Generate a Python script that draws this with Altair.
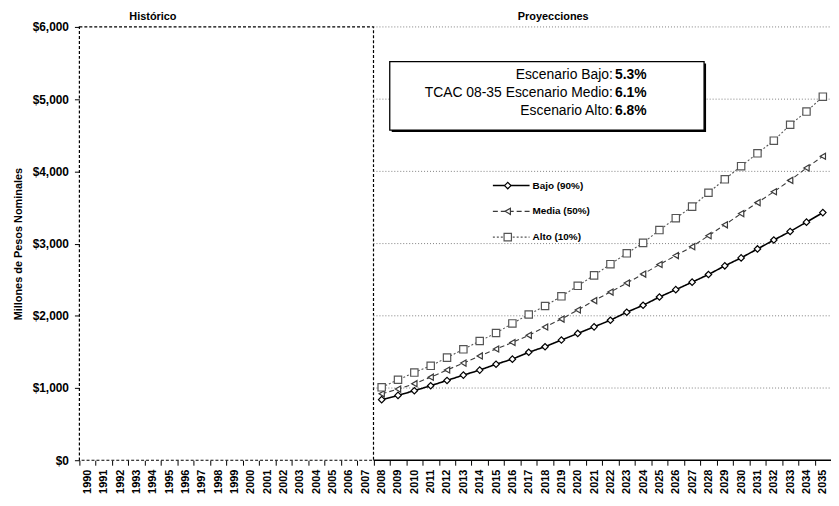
import altair as alt
import pandas as pd

# ---------------- data ----------------
all_years = [str(y) for y in range(1990, 2036)]
proj_years = [str(y) for y in range(2008, 2036)]

bajo = [839, 898, 963, 1032, 1105, 1179, 1248, 1330, 1400, 1495, 1572, 1664, 1756, 1847,
        1939, 2050, 2146, 2260, 2362, 2466, 2572, 2692, 2802, 2926, 3049, 3168, 3297, 3429]
medio = [920, 985, 1060, 1150, 1250, 1345, 1444, 1540, 1630, 1730, 1845, 1955, 2080, 2210,
         2329, 2453, 2578, 2710, 2834, 2957, 3109, 3260, 3415, 3567, 3718, 3875, 4048, 4209]
alto = [1010, 1114, 1214, 1307, 1421, 1536, 1651, 1762, 1894, 2018, 2136, 2270, 2415, 2560,
        2715, 2865, 3010, 3187, 3352, 3512, 3704, 3890, 4072, 4250, 4425, 4645, 4828, 5034]

series_names = ["Bajo (90%)", "Media (50%)", "Alto (10%)"]
series_values = [bajo, medio, alto]

y_ticks = [0, 1000, 2000, 3000, 4000, 5000, 6000]
grid_values = [1000, 2000, 3000, 4000, 5000, 6000]

header_labels = ["Histórico", "Proyecciones"]
header_pos = [4.5, 29.0]

box_labels = ["Escenario Bajo: ", "TCAC 08-35 Escenario Medio: ", "Escenario Alto: "]
box_rates = ["5.3%", "6.1%", "6.8%"]

y_title = "Millones de Pesos Nominales"

# ---------------- style ----------------
FONT = "Liberation Sans"
W, H = 758, 437
N = len(all_years)
split_idx = all_years.index(proj_years[0])

styles = {
    "Bajo (90%)": dict(color="black", dash=[1, 0], width=1.6, shape="diamond", size=42),
    "Media (50%)": dict(color="#3a3a3a", dash=[5, 3], width=1.1, shape="triangle-left", size=38),
    "Alto (10%)": dict(color="#555555", dash=[2, 2], width=1.1, shape="square", size=55),
}

rows = []
for name, vals in zip(series_names, series_values):
    for yr, v in zip(proj_years, vals):
        rows.append({"year": yr, "value": v, "series": name})
df = pd.DataFrame(rows)

yscale = alt.Scale(domain=[y_ticks[0], y_ticks[-1]], nice=False, zero=True)
yaxis = alt.Axis(
    title=y_title, values=y_ticks, format="$,.0f",
    labelFont=FONT, labelFontWeight="bold", labelFontSize=12, labelColor="black",
    titleFont=FONT, titleFontWeight="bold", titleFontSize=11, titleColor="black",
    titlePadding=9, labelPadding=6, tickSize=5, tickColor="black",
    domain=False, grid=False,
)


def yenc(field):
    return alt.Y(field, type="quantitative", scale=yscale, axis=yaxis)


xband_scale = alt.Scale(type="band", domain=all_years, paddingInner=0, paddingOuter=0)
xaxis = alt.Axis(
    title=None, labelAngle=-90, labelFont=FONT, labelFontWeight="bold", labelFontSize=11,
    labelColor="black", labelPadding=4, labelOverlap=False, tickSize=5, tickColor="black",
    tickBand="extent", domain=False, grid=False,
)
xband = alt.X("year:O", scale=xband_scale, axis=xaxis, bandPosition=0.5)

xq_scale = alt.Scale(domain=[0, N], nice=False, zero=False)


def xq(field):
    return alt.X(field, type="quantitative", scale=xq_scale, axis=None)


# ---------------- decorations ----------------
hist_df = pd.DataFrame({"x0": [0], "x1": [split_idx], "y0": [y_ticks[0]], "y1": [y_ticks[-1]]})
hist_rect = alt.Chart(hist_df).mark_rect(
    fillOpacity=0, stroke="black", strokeDash=[3, 2], strokeWidth=1.2
).encode(x=xq("x0"), x2=alt.X2("x1"), y=yenc("y0"), y2=alt.Y2("y1"))

grid_df = pd.DataFrame({"y": grid_values, "x0": split_idx, "x1": N})
grid = alt.Chart(grid_df).mark_rule(color="#808080", strokeDash=[1, 2], strokeWidth=1).encode(
    x=xq("x0"), x2=alt.X2("x1"), y=yenc("y"))

base_df = pd.DataFrame({"y": [0], "x0": [split_idx], "x1": [N]})
baseline = alt.Chart(base_df).mark_rule(color="black", strokeWidth=1.5).encode(
    x=xq("x0"), x2=alt.X2("x1"), y=yenc("y"))

one = pd.DataFrame({"a": [0]})
shadow = alt.Chart(one).mark_rect(color="black").encode(
    x=alt.value(315), x2=alt.value(632), y=alt.value(37), y2=alt.value(106))
box = alt.Chart(one).mark_rect(fill="white", stroke="black", strokeWidth=1.3).encode(
    x=alt.value(313), x2=alt.value(630), y=alt.value(35), y2=alt.value(104))

box_texts = []
for i, (lab, rate) in enumerate(zip(box_labels, box_rates)):
    ypix = 49 + 18 * i
    box_texts.append(alt.Chart(one).mark_text(
        font=FONT, fontSize=14, align="right", baseline="middle", color="black", text=lab
    ).encode(x=alt.value(538), y=alt.value(ypix)))
    box_texts.append(alt.Chart(one).mark_text(
        font=FONT, fontSize=14, fontWeight="bold", align="right", baseline="middle",
        color="black", text=rate
    ).encode(x=alt.value(572), y=alt.value(ypix)))

head_df = pd.DataFrame({"label": header_labels, "pos": header_pos})
headers = alt.Chart(head_df).mark_text(
    font=FONT, fontSize=11, fontWeight="bold", color="black", baseline="middle"
).encode(x=xq("pos"), y=alt.value(-10), text="label:N")

legend_layers = []
for i, name in enumerate(series_names):
    st = styles[name]
    ly = 160 + 26 * i
    legend_layers.append(alt.Chart(one).mark_rule(
        color=st["color"], strokeDash=st["dash"], strokeWidth=st["width"]
    ).encode(x=alt.value(417), x2=alt.value(454), y=alt.value(ly)))
    legend_layers.append(alt.Chart(one).mark_point(
        shape=st["shape"], size=st["size"], filled=True, fill="white", stroke=st["color"],
        strokeWidth=1.2, opacity=1
    ).encode(x=alt.value(432), y=alt.value(ly)))
    legend_layers.append(alt.Chart(one).mark_text(
        font=FONT, fontSize=10, fontWeight="bold", align="left", baseline="middle",
        color="black", text=name
    ).encode(x=alt.value(457), y=alt.value(ly)))

decor = alt.layer(hist_rect, grid, baseline, shadow, box, *box_texts, headers, *legend_layers)

# ---------------- data layers ----------------
data_layers = []
for name in series_names:
    st = styles[name]
    base = alt.Chart(df).transform_filter(alt.datum.series == name)
    data_layers.append(base.mark_line(
        color=st["color"], strokeDash=st["dash"], strokeWidth=st["width"]
    ).encode(x=xband, y=yenc("value")))
    data_layers.append(base.mark_point(
        shape=st["shape"], size=st["size"], filled=True, fill="white", stroke=st["color"],
        strokeWidth=1.2, opacity=1
    ).encode(x=xband, y=yenc("value")))

data = alt.layer(*data_layers)

chart = alt.layer(decor, data).resolve_scale(x="independent").properties(
    width=W, height=H,
    autosize=alt.AutoSizeParams(type="none"),
    padding={"left": 72, "top": 17, "right": 0, "bottom": 36},
    background="white",
).configure_view(stroke=None)

chart.save("out.html", embed_options={"renderer": "svg", "actions": False})
